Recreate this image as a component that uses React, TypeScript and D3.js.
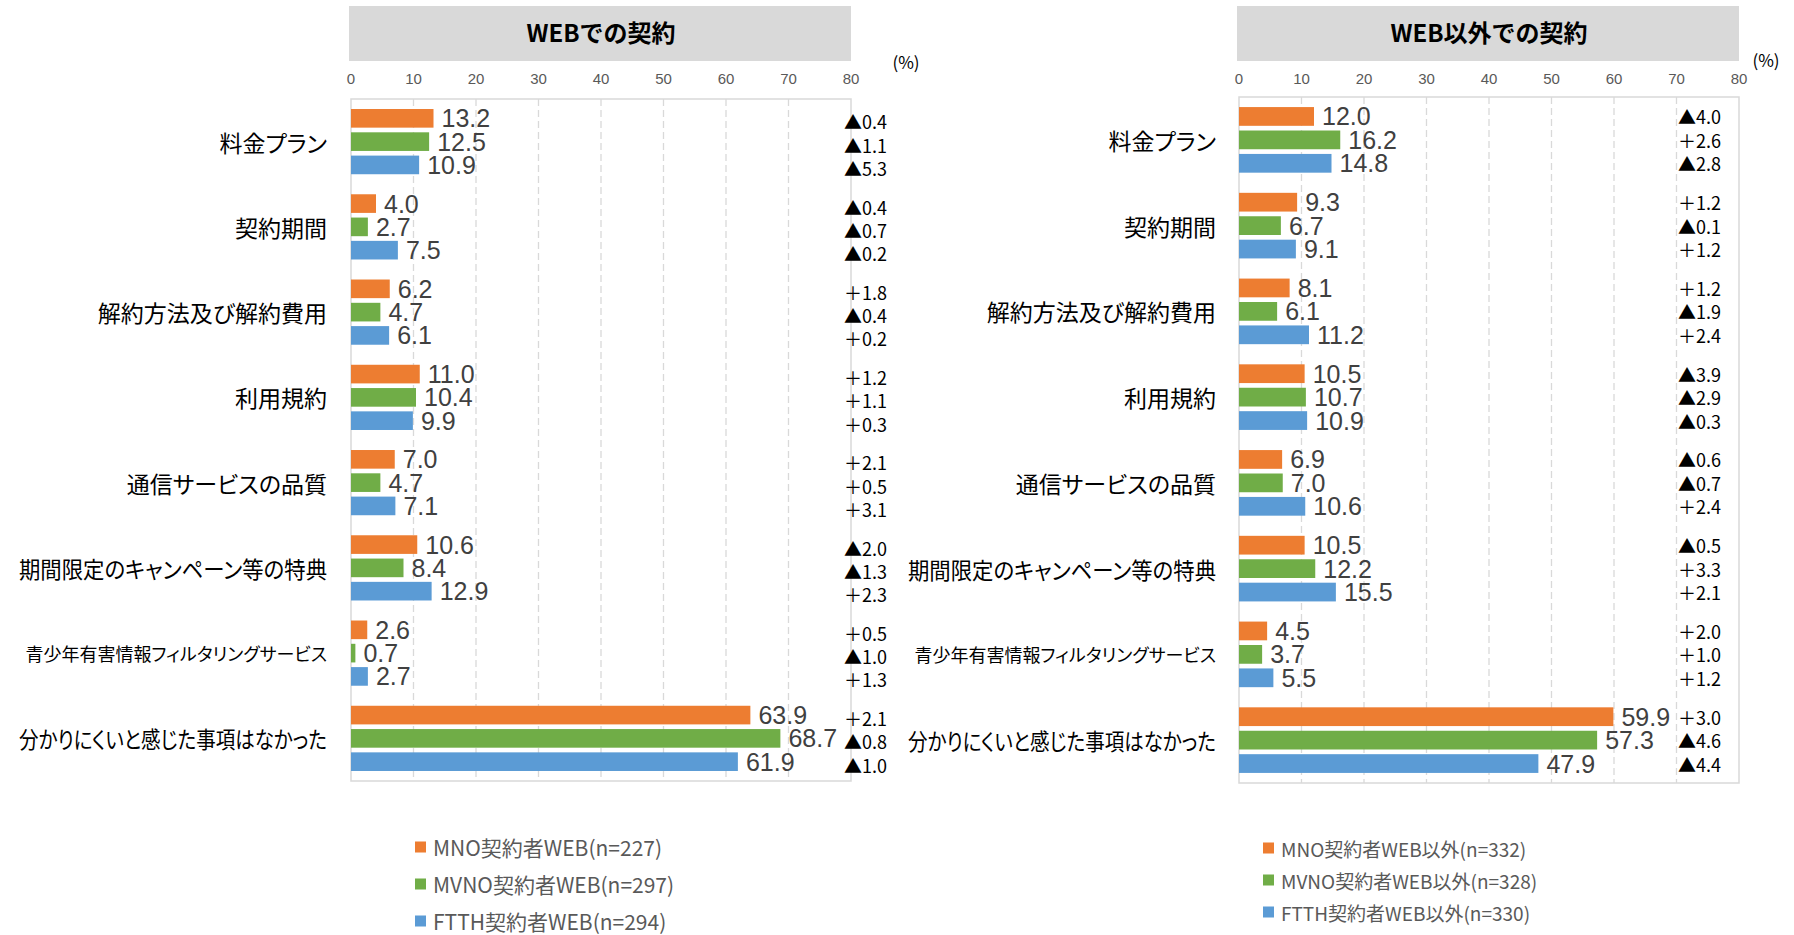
import React, { useLayoutEffect, useRef } from 'react';
import * as d3 from 'd3';

// categories (top to bottom)
const categories = [
  '料金プラン',
  '契約期間',
  '解約方法及び解約費用',
  '利用規約',
  '通信サービスの品質',
  '期間限定のキャンペーン等の特典',
  '青少年有害情報フィルタリングサービス',
  '分かりにくいと感じた事項はなかった',
];

// WEBでの契約 (%)
const mnoWeb = [13.2, 4.0, 6.2, 11.0, 7.0, 10.6, 2.6, 63.9];
const mvnoWeb = [12.5, 2.7, 4.7, 10.4, 4.7, 8.4, 0.7, 68.7];
const ftthWeb = [10.9, 7.5, 6.1, 9.9, 7.1, 12.9, 2.7, 61.9];
// change vs previous year (negative = ▲)
const mnoWebDiff = [-0.4, -0.4, 1.8, 1.2, 2.1, -2.0, 0.5, 2.1];
const mvnoWebDiff = [-1.1, -0.7, -0.4, 1.1, 0.5, -1.3, -1.0, -0.8];
const ftthWebDiff = [-5.3, -0.2, 0.2, 0.3, 3.1, 2.3, 1.3, -1.0];

// WEB以外での契約 (%)
const mnoOther = [12.0, 9.3, 8.1, 10.5, 6.9, 10.5, 4.5, 59.9];
const mvnoOther = [16.2, 6.7, 6.1, 10.7, 7.0, 12.2, 3.7, 57.3];
const ftthOther = [14.8, 9.1, 11.2, 10.9, 10.6, 15.5, 5.5, 47.9];
const mnoOtherDiff = [-4.0, 1.2, 1.2, -3.9, -0.6, -0.5, 2.0, 3.0];
const mvnoOtherDiff = [2.6, -0.1, -1.9, -2.9, -0.7, 3.3, 1.0, -4.6];
const ftthOtherDiff = [-2.8, 1.2, 2.4, -0.3, 2.4, 2.1, 1.2, -4.4];

const webLegend = ['MNO契約者WEB(n=227)', 'MVNO契約者WEB(n=297)', 'FTTH契約者WEB(n=294)'];
const otherLegend = ['MNO契約者WEB以外(n=332)', 'MVNO契約者WEB以外(n=328)', 'FTTH契約者WEB以外(n=330)'];

const colors = ['#ED7D31', '#70AD47', '#5B9BD5'];
const xMax = 80;
const labelMaxW = 308;

const JP = '"Noto Sans CJK JP", "Noto Sans", sans-serif';
const NUM = '"Liberation Sans", Arial, sans-serif';

const fmtDiff = (v: number) => (v < 0 ? '▲' : '＋') + Math.abs(v).toFixed(1);

function Panel({ p }: { p: any }) {
  const x = d3.scaleLinear().domain([0, xMax]).range([p.x0, p.x1]);
  const y = d3.scaleBand<string>().domain(categories).range([p.y0, p.y1])
    .paddingInner(0.235).paddingOuter(0.1175);
  const sub = d3.scaleBand<number>().domain([0, 1, 2]).range([0, y.bandwidth()]).paddingInner(0.2);
  const ticks = x.ticks(8);

  return (
    <g>
      {/* title */}
      <rect x={p.x0 - 2} y={6} width={p.x1 - p.x0 + 2} height={55} fill="#d9d9d9" />
      <text x={(p.x0 + p.x1) / 2} y={31} textAnchor="middle" dominantBaseline="central"
        fontFamily={JP} fontWeight="bold" fontSize={24} fill="#000">{p.title}</text>
      <text x={p.pctX} y={p.pctY} textAnchor="middle" dominantBaseline="central"
        fontFamily={JP} fontSize={17} fill="#000">(%)</text>

      {/* tick labels */}
      {ticks.map(t => (
        <text key={'t' + t} x={x(t)} y={78} textAnchor="middle" dominantBaseline="central"
          fontFamily={NUM} fontSize={15} fill="#595959">{t}</text>
      ))}

      {/* grid + frame */}
      {ticks.filter(t => t > 0 && t < xMax).map(t => (
        <line key={'g' + t} x1={x(t)} x2={x(t)} y1={p.y0} y2={p.y1}
          stroke="#d9d9d9" strokeWidth={1.3} strokeDasharray="7,4" />
      ))}
      <rect x={p.x0} y={p.y0} width={p.x1 - p.x0} height={p.y1 - p.y0}
        fill="none" stroke="#d9d9d9" strokeWidth={1.5} />

      {/* category labels */}
      {categories.map(c => (
        <text key={'c' + c} className="cat" x={p.labelX} y={(y(c) as number) + y.bandwidth() / 2}
          textAnchor="end" dominantBaseline="central" fontFamily={JP}
          fontSize={c.length > 17 ? 18 : 23} fill="#000"
          style={{ fontFeatureSettings: '"palt"' }}>{c}</text>
      ))}

      {/* bars */}
      {p.series.map((s: number[], si: number) => s.map((v, i) => {
        const by = (y(categories[i]) as number) + (sub(si) as number);
        const cy = by + sub.bandwidth() / 2;
        return (
          <g key={'b' + si + '-' + i}>
            <rect x={x(0)} y={by} width={x(v) - x(0)} height={sub.bandwidth()} fill={colors[si]} />
            <text x={x(v) + 8} y={cy} dominantBaseline="central" fontFamily={NUM}
              fontSize={25} fill="#404040">{v.toFixed(1)}</text>
            <text x={p.diffX} y={cy + p.diffDy} dominantBaseline="central" fontFamily={JP}
              fontSize={18} fill="#000">
              {fmtDiff(p.diffs[si][i])}
            </text>
          </g>
        );
      }))}

      {/* legend */}
      {p.legend.map((l: string, li: number) => (
        <g key={'l' + li}>
          <rect x={p.legendX} y={p.legendY + li * p.legendStep - 5.5} width={11} height={11} fill={colors[li]} />
          <text x={p.legendX + 18} y={p.legendY + li * p.legendStep} dominantBaseline="central"
            fontFamily={JP} fontSize={p.legendFont} fill="#595959">{l}</text>
        </g>
      ))}
    </g>
  );
}

const panels = [
  {
    title: 'WEBでの契約', series: [mnoWeb, mvnoWeb, ftthWeb], diffs: [mnoWebDiff, mvnoWebDiff, ftthWebDiff],
    legend: webLegend, x0: 351, x1: 851, y0: 99, y1: 781, labelX: 327, diffX: 844, diffDy: 3,
    legendX: 415, legendY: 847, legendStep: 37, legendFont: 21, pctX: 906, pctY: 61,
  },
  {
    title: 'WEB以外での契約', series: [mnoOther, mvnoOther, ftthOther], diffs: [mnoOtherDiff, mvnoOtherDiff, ftthOtherDiff],
    legend: otherLegend, x0: 1239, x1: 1739, y0: 97, y1: 783, labelX: 1216, diffX: 1678, diffDy: 0,
    legendX: 1263, legendY: 848, legendStep: 32, legendFont: 19, pctX: 1766, pctY: 59,
  },
];

export default function App() {
  const svgRef = useRef<SVGSVGElement>(null);

  // squeeze long category labels so they fit left of the plot, like the original
  useLayoutEffect(() => {
    d3.select(svgRef.current).selectAll<SVGTextElement, unknown>('text.cat').each(function () {
      if (this.getComputedTextLength() > labelMaxW) {
        d3.select(this).attr('textLength', labelMaxW).attr('lengthAdjust', 'spacingAndGlyphs');
      }
    });
  }, []);

  return (
    <svg ref={svgRef} width={1794} height={935} style={{ position: 'fixed', left: 0, top: 0, background: '#fff' }}>
      <rect width={1794} height={935} fill="#fff" />
      {panels.map((p, i) => <Panel key={i} p={p} />)}
    </svg>
  );
}
